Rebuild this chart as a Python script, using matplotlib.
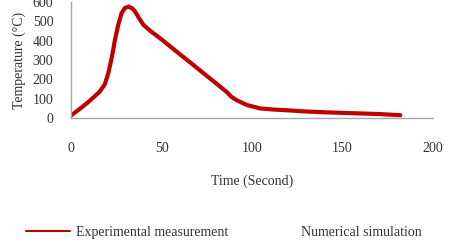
import numpy as np
import matplotlib.pyplot as plt

plt.rcParams['font.family'] = ['Liberation Serif', 'DejaVu Serif']

# experimental temperature curve
time_s = [0, 5, 10, 15.6, 18.5, 20.4, 22.5, 24.1, 26, 27.8, 29.5, 31.5, 33.5, 35.2, 37.5,
          39.8, 44, 49, 58, 67.4, 76, 82, 85.8, 88.5, 91.3, 97, 104.3, 112, 120, 130, 140,
          150, 160, 170, 182]
temp_c = [15, 50, 88, 136, 175, 231, 320, 404, 485, 542, 568, 576, 568, 551, 515,
          482, 448, 413, 345, 275, 210, 165, 136, 110, 93, 68, 50, 44, 40, 34, 30,
          27, 24, 21, 15]
# simulation series (legend only in the picture)
sim_time = []
sim_temp = []

fig = plt.figure(figsize=(4.49, 2.44), dpi=100)
ax = fig.add_axes([0.159, 0.516, 0.805, 0.476])
ax.plot(time_s, temp_c, color="#C00000", linewidth=3.0, solid_capstyle="round",
        solid_joinstyle="round", label="Experimental measurement")
ax.plot(sim_time, sim_temp, color="none", linewidth=1.5, label="Numerical simulation")

ax.set_xlim(0, 200)
ax.set_ylim(0, 600)
ax.set_xticks([0, 50, 100, 150, 200])
ax.set_yticks([0, 100, 200, 300, 400, 500, 600])
ax.tick_params(axis="both", length=0, labelsize=10, colors="#333333")
ax.tick_params(axis="x", pad=17)
ax.tick_params(axis="y", pad=13)
for s in ["top", "right"]:
    ax.spines[s].set_visible(False)
for s in ["left", "bottom"]:
    ax.spines[s].set_color("#A6A6A6")
    ax.spines[s].set_linewidth(1.0)

ax.set_xlabel("Time (Second)", fontsize=10, color="#333333", labelpad=14)
ax.set_ylabel("Temperature (°C)", fontsize=10, color="#333333", labelpad=5)

leg = fig.legend(loc="center", bbox_to_anchor=(0.498, 0.049), ncol=2, frameon=False,
                 fontsize=10, handlelength=3.2, handletextpad=0.4, columnspacing=1.65,
                 labelcolor="#333333")
for line in leg.get_lines():
    line.set_linewidth(1.5)

fig.savefig("out.png", dpi=100)
